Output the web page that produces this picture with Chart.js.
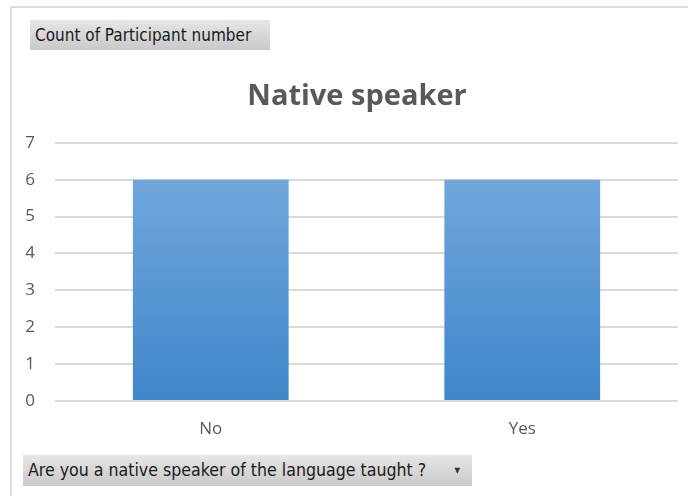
<!DOCTYPE html>
<html>
<head>
<meta charset="utf-8">
<script src="https://cdn.jsdelivr.net/npm/chart.js@4.4.1/dist/chart.umd.min.js"></script>
<style>
  html, body { margin: 0; padding: 0; background: #fff; }
  #wrap { position: relative; width: 688px; height: 496px; overflow: hidden; }
  #frame { position: absolute; left: 10px; top: 6px; width: 700px; height: 520px;
           border-left: 2px solid #dcdcdc; border-top: 2px solid #dcdcdc; }
  canvas { position: absolute; left: 0; top: 0; }
  .pivot { position: absolute; font-family: "DejaVu Sans Condensed", "DejaVu Sans", sans-serif;
           font-size: 17px; color: #1a1a1a; line-height: 30px; padding-left: 5px;
           background: linear-gradient(to bottom, #e6e6e6, #c9c9c9);
           box-sizing: border-box; white-space: nowrap; }
  #fieldTop { left: 30px; top: 20px; width: 240px; height: 30px; }
  #fieldBottom { left: 23px; top: 455px; width: 449px; height: 31px; font-size: 17.6px; }
  #fieldBottom .arrow { position: absolute; right: 12px; top: 1px; font-size: 8px; color: #333; }
</style>
</head>
<body>
<div id="wrap">
  <div id="frame"></div>
  <canvas id="chart" width="688" height="496"></canvas>
  <div class="pivot" id="fieldTop">Count of Participant number</div>
  <div class="pivot" id="fieldBottom">Are you a native speaker of the language taught ?<span class="arrow">&#9660;</span></div>
</div>
<script>
(function() {
    'use strict';

    var categories = ['No', 'Yes'];
    var counts = [6, 6];
    var yTicks = [0, 1, 2, 3, 4, 5, 6, 7];
    var chartTitle = 'Native speaker';

    var ctx = document.getElementById('chart');

    // vertical gradient on each bar, lighter at the top
    function barFill(context) {
        var chart = context.chart;
        var area = chart.chartArea;
        if (!area) return '#5b9bd5';
        var y = chart.scales.y;
        var g = chart.ctx.createLinearGradient(0, y.getPixelForValue(Math.max.apply(null, counts)), 0, y.getPixelForValue(0));
        g.addColorStop(0, '#6fa7dc');
        g.addColorStop(1, '#3f86cb');
        return g;
    }

    // the Excel title sits a little right of the canvas centre
    var titleShift = {
        id: 'titleShift',
        afterLayout: function(chart) {
            var t = chart.titleBlock;
            if (!t) return;
            t.left += 18;
            t.right += 18;
        }
    };

    new Chart(ctx.getContext('2d'), {
        type: 'bar',
        data: {
            labels: categories,
            datasets: [{
                label: 'Count of Participant number',
                data: counts,
                backgroundColor: barFill,
                borderWidth: 0,
                barPercentage: 0.5,
                categoryPercentage: 1
            }]
        },
        options: {
            responsive: false,
            animation: false,
            layout: { padding: { top: 79, right: 10, bottom: 50, left: 0 } },
            plugins: {
                legend: { display: false },
                tooltip: { enabled: false },
                title: {
                    display: true,
                    text: chartTitle,
                    color: '#595959',
                    font: { family: 'Open Sans', size: 29, weight: 'bold' },
                    padding: { top: 0, bottom: 29 }
                }
            },
            scales: {
                x: {
                    grid: { display: false },
                    border: { display: false },
                    ticks: {
                        color: '#595959',
                        padding: 10,
                        font: { family: 'Open Sans', size: 17 }
                    },
                    afterFit: function(scale) { scale.height = 45; }
                },
                y: {
                    min: yTicks[0],
                    max: yTicks[yTicks.length - 1],
                    afterBuildTicks: function(scale) {
                        scale.ticks = yTicks.map(function(v) { return { value: v }; });
                    },
                    grid: { color: '#d9d9d9', lineWidth: 2, drawTicks: false },
                    border: { display: false },
                    ticks: {
                        color: '#595959',
                        padding: 20,
                        font: { family: 'Open Sans', size: 17 }
                    },
                    afterFit: function(scale) { scale.width = 55; }
                }
            }
        },
        plugins: [titleShift]
    });
})();
</script>
</body>
</html>
